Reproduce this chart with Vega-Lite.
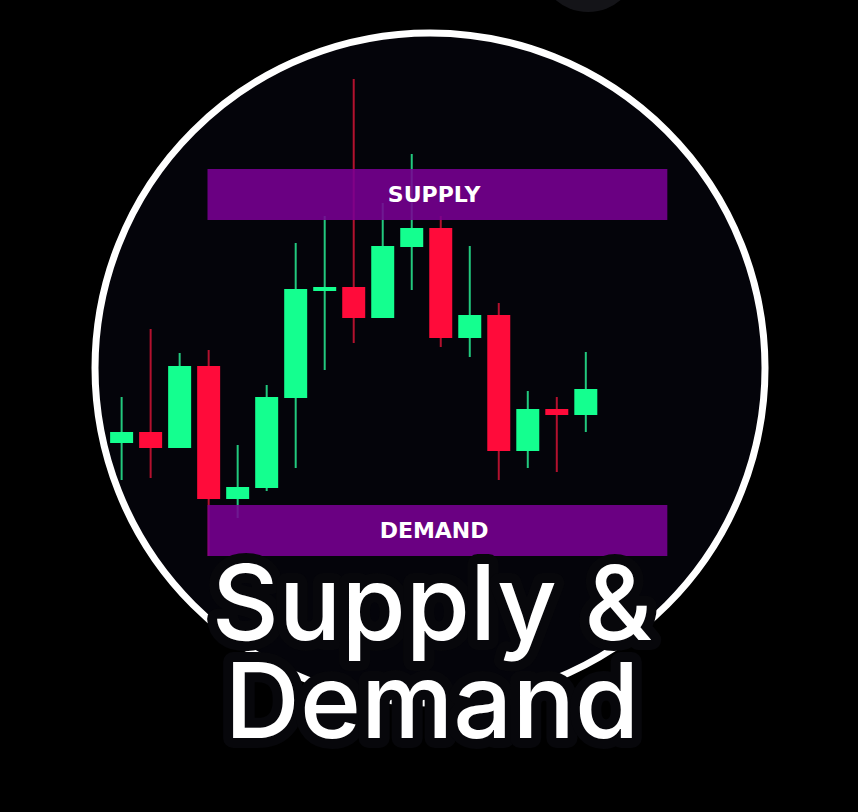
{
  "$schema": "https://vega.github.io/schema/vega-lite/v6.json",
  "width": 858,
  "height": 812,
  "autosize": {"type": "fit", "contains": "padding"},
  "padding": 0,
  "background": "#000000",
  "config": {"view": {"stroke": null}},
  "datasets": {
    "candles": [
      {"i": 1, "open": 36.9, "close": 38.0, "high": 41.5, "low": 33.2, "dir": "up"},
      {"i": 2, "open": 38.0, "close": 36.4, "high": 48.3, "low": 33.4, "dir": "down"},
      {"i": 3, "open": 36.4, "close": 44.6, "high": 45.9, "low": 36.4, "dir": "up"},
      {"i": 4, "open": 44.6, "close": 31.3, "high": 46.2, "low": 25.6, "dir": "down"},
      {"i": 5, "open": 31.3, "close": 32.5, "high": 36.7, "low": 29.4, "dir": "up"},
      {"i": 6, "open": 32.4, "close": 41.5, "high": 42.7, "low": 32.1, "dir": "up"},
      {"i": 7, "open": 41.4, "close": 52.3, "high": 56.9, "low": 34.4, "dir": "up"},
      {"i": 8, "open": 52.1, "close": 52.5, "high": 59.6, "low": 44.2, "dir": "up"},
      {"i": 9, "open": 52.5, "close": 49.4, "high": 73.3, "low": 46.9, "dir": "down"},
      {"i": 10, "open": 49.4, "close": 56.6, "high": 60.9, "low": 49.4, "dir": "up"},
      {"i": 11, "open": 56.5, "close": 58.4, "high": 65.8, "low": 52.2, "dir": "up"},
      {"i": 12, "open": 58.4, "close": 47.4, "high": 59.6, "low": 46.5, "dir": "down"},
      {"i": 13, "open": 47.4, "close": 49.7, "high": 56.6, "low": 45.5, "dir": "up"},
      {"i": 14, "open": 49.7, "close": 36.1, "high": 50.9, "low": 33.2, "dir": "down"},
      {"i": 15, "open": 36.1, "close": 40.3, "high": 42.1, "low": 34.4, "dir": "up"},
      {"i": 16, "open": 40.3, "close": 39.7, "high": 41.5, "low": 34.0, "dir": "down"},
      {"i": 17, "open": 39.7, "close": 42.3, "high": 46.0, "low": 38.0, "dir": "up"}
    ],
    "zones": [
      {"zone": "SUPPLY", "x1": 3.96, "x2": 19.81, "top": 64.3, "bottom": 59.2, "mid": 11.77, "labely": 61.75},
      {"zone": "DEMAND", "x1": 3.96, "x2": 19.81, "top": 30.7, "bottom": 25.6, "mid": 11.77, "labely": 28.15}
    ],
    "rings": [
      {"name": "frame", "cx": 11.63, "cy": 44.4}
    ],
    "blobs": [
      {"name": "top", "cx": 17.08, "cy": 85.0}
    ],
    "titles": [
      {"line": "Supply &", "tx": 11.7, "ty": 17.2},
      {"line": "Demand", "tx": 11.7, "ty": 7.4}
    ]
  },
  "layer": [
    {
      "data": {"name": "blobs"},
      "mark": {"type": "point", "shape": "circle", "filled": true, "size": 10000, "color": "#141418", "opacity": 1, "clip": true},
      "encoding": {
        "x": {"field": "cx", "type": "quantitative", "axis": null, "scale": {"domain": [-3.02, 26.21], "nice": false, "zero": false}},
        "y": {"field": "cy", "type": "quantitative", "axis": null, "scale": {"domain": [0, 81.2], "nice": false, "zero": false}}
      }
    },
    {
      "data": {"name": "rings"},
      "mark": {"type": "point", "shape": "circle", "filled": false, "size": 448900, "fill": "#04040a", "fillOpacity": 1, "stroke": "#ffffff", "strokeWidth": 7, "opacity": 1, "clip": true},
      "encoding": {
        "x": {"field": "cx", "type": "quantitative"},
        "y": {"field": "cy", "type": "quantitative"}
      }
    },
    {
      "data": {"name": "candles"},
      "mark": {"type": "rule", "strokeWidth": 2},
      "encoding": {
        "x": {"field": "i", "type": "quantitative"},
        "y": {"field": "low", "type": "quantitative"},
        "y2": {"field": "high"},
        "color": {"field": "dir", "type": "nominal", "legend": null, "scale": {"domain": ["up", "down"], "range": ["#22c97e", "#b3112e"]}}
      }
    },
    {
      "data": {"name": "candles"},
      "mark": {"type": "bar", "size": 23, "strokeWidth": 0},
      "encoding": {
        "x": {"field": "i", "type": "quantitative"},
        "y": {"field": "open", "type": "quantitative"},
        "y2": {"field": "close"},
        "fill": {"field": "dir", "type": "nominal", "legend": null, "scale": {"domain": ["up", "down"], "range": ["#14ff8f", "#ff0b3a"]}}
      }
    },
    {
      "data": {"name": "zones"},
      "mark": {"type": "rect", "color": "#7a0094", "opacity": 0.87},
      "encoding": {
        "x": {"field": "x1", "type": "quantitative"},
        "x2": {"field": "x2"},
        "y": {"field": "top", "type": "quantitative"},
        "y2": {"field": "bottom"}
      }
    },
    {
      "data": {"name": "zones"},
      "mark": {"type": "text", "font": "DejaVu Sans", "fontWeight": "bold", "fontSize": 22, "letterSpacing": 1, "color": "#ffffff", "align": "center", "baseline": "middle"},
      "encoding": {
        "x": {"field": "mid", "type": "quantitative"},
        "y": {"field": "labely", "type": "quantitative"},
        "text": {"field": "zone"}
      }
    },
    {
      "data": {"name": "titles"},
      "mark": {"type": "text", "font": "Inter", "fontWeight": 500, "fontSize": 104, "align": "center", "baseline": "alphabetic", "fill": "#07070b", "stroke": "#07070b", "strokeWidth": 20, "strokeJoin": "round"},
      "encoding": {
        "x": {"field": "tx", "type": "quantitative"},
        "y": {"field": "ty", "type": "quantitative"},
        "text": {"field": "line"}
      }
    },
    {
      "data": {"name": "titles"},
      "mark": {"type": "text", "font": "Inter", "fontWeight": 500, "fontSize": 104, "align": "center", "baseline": "alphabetic", "color": "#ffffff"},
      "encoding": {
        "x": {"field": "tx", "type": "quantitative"},
        "y": {"field": "ty", "type": "quantitative"},
        "text": {"field": "line"}
      }
    }
  ]
}
